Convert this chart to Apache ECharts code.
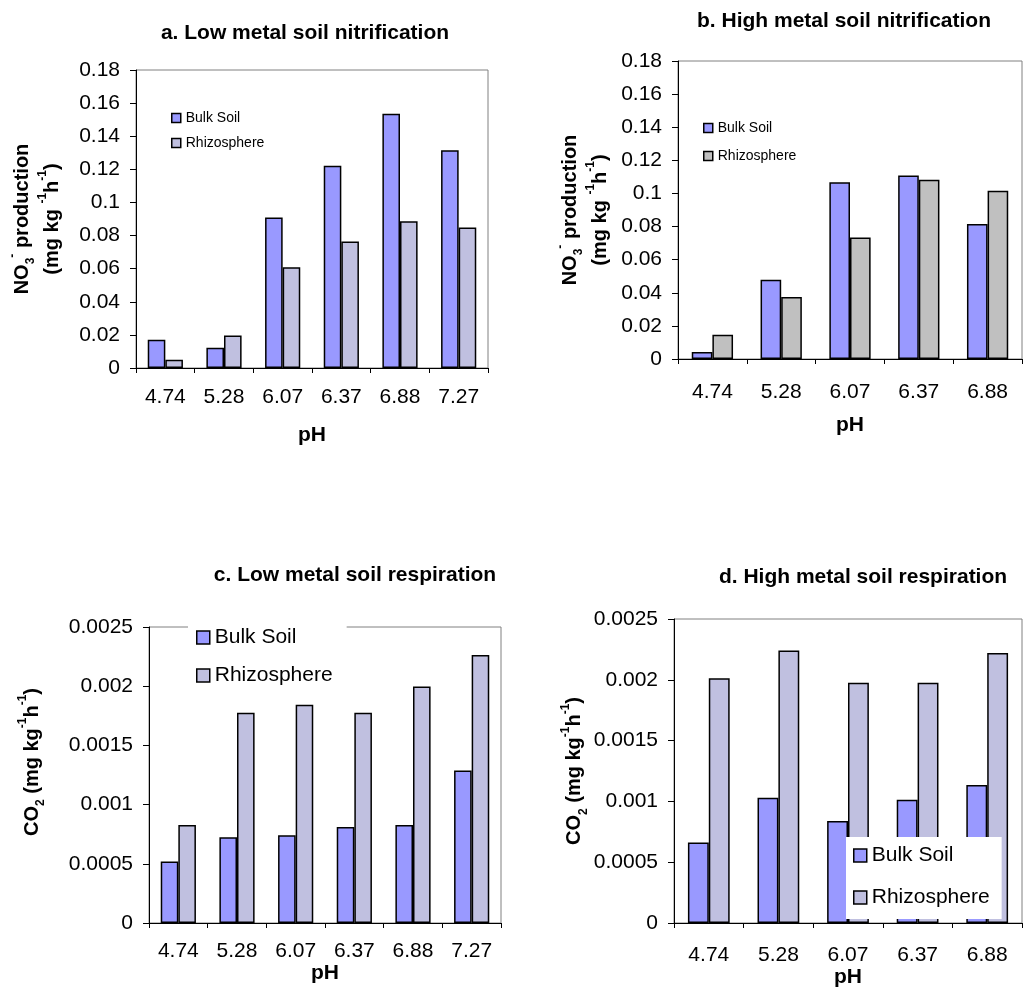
<!DOCTYPE html>
<html><head><meta charset="utf-8">
<script src="https://cdn.jsdelivr.net/npm/echarts@6/dist/echarts.min.js"></script>
<style>html,body{margin:0;padding:0;background:#fff}#c{width:1028px;height:1002px}</style>
</head><body><div id="c"></div>
<script>
// ---- data ----
const categoriesLow = ['4.74', '5.28', '6.07', '6.37', '6.88', '7.27'];
const categoriesHigh = ['4.74', '5.28', '6.07', '6.37', '6.88'];
const seriesNames = ['Bulk Soil', 'Rhizosphere'];
const nitrLowBulk = [0.0171, 0.0123, 0.0909, 0.1221, 0.1536, 0.1316];
const nitrLowRhizo = [0.0050, 0.0196, 0.0609, 0.0764, 0.0887, 0.0849];
const nitrHighBulk = [0.0042, 0.0479, 0.1068, 0.1108, 0.0815];
const nitrHighRhizo = [0.0147, 0.0374, 0.0734, 0.1082, 0.1016];
const respLowBulk = [0.000519, 0.000725, 0.000742, 0.000810, 0.000827, 0.001287];
const respLowRhizo = [0.000827, 0.001775, 0.001843, 0.001775, 0.001998, 0.002263];
const respHighBulk = [0.000663, 0.001031, 0.000839, 0.001014, 0.001135];
const respHighRhizo = [0.002012, 0.002240, 0.001976, 0.001976, 0.002220];
const nitrTicks = [0, 0.18, 0.02];      // min, max, interval
const respTicks = [0, 0.0025, 0.0005];
const titles = ['a. Low metal soil nitrification', 'b. High metal soil nitrification',
                'c. Low metal soil respiration', 'd. High metal soil respiration'];
const xTitle = 'pH';

// ---- styling ----
const F = '"Liberation Sans", Arial, sans-serif';
const BULK = '#9999FF', RHIZO = '#C0C0E0', RHIZO_GREY = '#C0C0C0';

const grids = [
  {left: 136, top: 70, width: 352, height: 298},
  {left: 678, top: 61, width: 344, height: 298},
  {left: 149, top: 627, width: 352, height: 296},
  {left: 674, top: 619, width: 348, height: 304}
].map(g => Object.assign({show: true, borderColor: '#808080', borderWidth: 1, backgroundColor: 'transparent', containLabel: false}, g));

const richName = {
  t: {fontSize: 20, fontWeight: 'bold', fontFamily: F, color: '#000', lineHeight: 30},
  sb: {fontSize: 12, fontWeight: 'bold', fontFamily: F, color: '#000', verticalAlign: 'bottom', lineHeight: 20},
  sp: {fontSize: 12, fontWeight: 'bold', fontFamily: F, color: '#000', verticalAlign: 'top', lineHeight: 20}
};
const nitrName = '{t|NO}{sb|3}{sp|-}{t| production}\n{t|(mg kg }{sp|-1}{t|h}{sp|-1}{t|)}';
const co2Name = '{t|CO}{sb|2}{t| (mg kg}{sp|-1}{t|h}{sp|-1}{t|)}';

function yAx(gi, ticks, name, gap, pad) {
  return {
    type: 'value', gridIndex: gi, min: ticks[0], max: ticks[1], interval: ticks[2],
    axisLine: {show: true, lineStyle: {color: '#000', width: 1}},
    axisTick: {show: true, length: 6, lineStyle: {color: '#000'}},
    splitLine: {show: false},
    axisLabel: {color: '#000', fontSize: 21, fontFamily: F, margin: 16},
    name: name, nameLocation: 'middle', nameRotate: 90, nameGap: gap,
    nameTextStyle: {fontSize: 20, fontWeight: 'bold', fontFamily: F, color: '#000', rich: richName, padding: pad || 0}
  };
}
function xAx(gi, cats, margin, nameGap) {
  return {
    type: 'category', gridIndex: gi, data: cats, boundaryGap: true,
    axisLine: {show: true, lineStyle: {color: '#000', width: 1}},
    axisTick: {show: true, length: 5, alignWithLabel: false, lineStyle: {color: '#000'}},
    axisLabel: {color: '#000', fontSize: 21, fontFamily: F, margin: margin, interval: 0},
    name: xTitle, nameLocation: 'middle', nameGap: nameGap,
    nameTextStyle: {fontSize: 21, fontWeight: 'bold', fontFamily: F, color: '#000'}
  };
}
function bar(gi, name, data, color) {
  return {
    type: 'bar', name: name, xAxisIndex: gi, yAxisIndex: gi, data: data,
    barGap: '0%', barCategoryGap: '40%',
    itemStyle: {color: color, borderColor: '#000', borderWidth: 1.5}
  };
}
function legend(opts, rhizoColor, fs, iw) {
  return Object.assign({
    orient: 'vertical', itemWidth: iw, itemHeight: iw,
    textStyle: {fontSize: fs, fontFamily: F, color: '#000'},
    data: [
      {name: seriesNames[0], icon: 'rect', itemStyle: {color: BULK, borderColor: '#000', borderWidth: 1.5}},
      {name: seriesNames[1], icon: 'rect', itemStyle: {color: rhizoColor, borderColor: '#000', borderWidth: 1.5}}
    ],
    selectedMode: false
  }, opts);
}
const titlePos = [[305, 33], [844, 21], [355, 575], [863, 577]];

const option = {
  animation: false,
  backgroundColor: '#fff',
  grid: grids,
  xAxis: [xAx(0, categoriesLow, 19, 57), xAx(1, categoriesHigh, 23, 56), xAx(2, categoriesLow, 18, 40), xAx(3, categoriesHigh, 22, 44)],
  yAxis: [yAx(0, nitrTicks, nitrName, 69), yAx(1, nitrTicks, nitrName, 63),
          yAx(2, respTicks, co2Name, 102, [0, 0, 0, 26]), yAx(3, respTicks, co2Name, 83)],
  series: [
    bar(0, seriesNames[0], nitrLowBulk, BULK), bar(0, seriesNames[1], nitrLowRhizo, RHIZO),
    bar(1, seriesNames[0], nitrHighBulk, BULK), bar(1, seriesNames[1], nitrHighRhizo, RHIZO_GREY),
    bar(2, seriesNames[0], respLowBulk, BULK), bar(2, seriesNames[1], respLowRhizo, RHIZO),
    bar(3, seriesNames[0], respHighBulk, BULK), bar(3, seriesNames[1], respHighRhizo, RHIZO)
  ],
  legend: [
    legend({left: 171, top: 111, padding: 0, itemGap: 11}, RHIZO, 14, 9),
    legend({left: 703, top: 121, padding: 0, itemGap: 14}, RHIZO_GREY, 14, 9),
    legend({left: 188, top: 615, padding: [12, 14, 12, 8], itemGap: 17, backgroundColor: '#fff'}, RHIZO, 21, 13),
    legend({left: 846, top: 837, padding: [8, 12, 11, 7], itemGap: 21, backgroundColor: '#fff'}, RHIZO, 21, 13)
  ],
  graphic: titles.map((t, i) => ({
    type: 'text', x: titlePos[i][0], y: titlePos[i][1],
    style: {text: t, fill: '#000', font: 'bold 21px ' + F, textAlign: 'center', textVerticalAlign: 'middle'}
  }))
};
const chart = echarts.init(document.getElementById('c'), null, {renderer: 'canvas'});
chart.setOption(option);
</script>
</body></html>
